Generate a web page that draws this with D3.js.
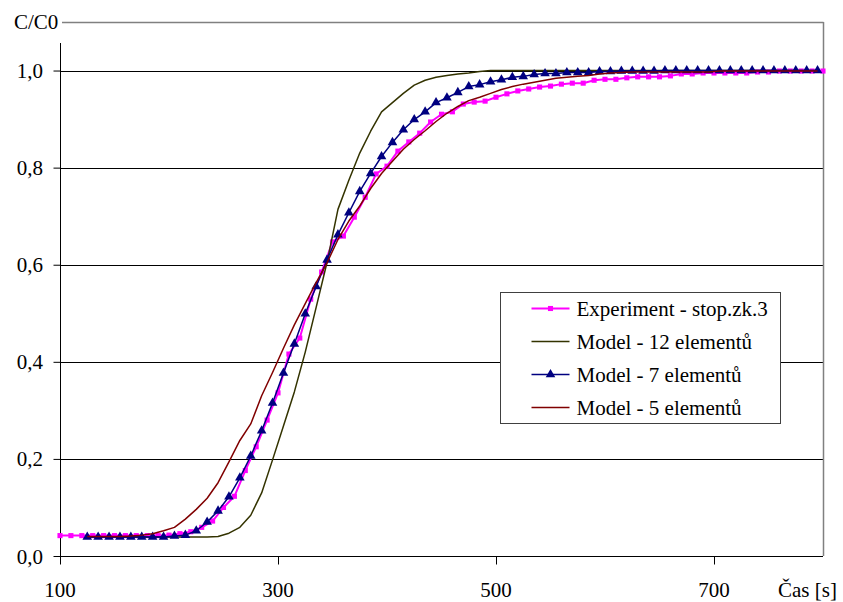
<!DOCTYPE html>
<html>
<head>
<meta charset="UTF-8">
<script src="https://d3js.org/d3.v7.min.js"></script>
</head>
<body style="margin:0">
<svg width="843" height="602" font-family="Liberation Serif"></svg>
<script>
// time grid of the experiment (s)
const expTime = [100,110,120,130,140,150,160,170,180,190,200,210,220,230,240,250,260,270,280,290,
    300,310,320,330,340,350,360,370,380,390,400,410,420,430,440,450,460,470,480,490,
    500,510,520,530,540,550,560,570,580,590,600,610,620,630,640,650,660,670,680,690,
    700,710,720,730,740,750,760,770,780,790,800];
const expValues = [0.042,0.042,0.042,0.042,0.042,0.042,0.042,0.042,0.042,0.042,
    0.043,0.046,0.050,0.059,0.072,0.100,0.123,0.176,0.225,0.280,
    0.336,0.416,0.449,0.529,0.585,0.647,0.659,0.698,0.739,0.787,
    0.803,0.834,0.853,0.871,0.894,0.910,0.915,0.931,0.935,0.937,
    0.945,0.952,0.958,0.962,0.966,0.968,0.972,0.974,0.974,0.980,
    0.982,0.982,0.985,0.987,0.987,0.987,0.989,0.993,0.993,0.995,
    0.995,0.995,0.995,0.995,0.997,0.997,0.999,0.999,0.999,0.999,0.999];

// time grid of the models (s)
const modelTime = [125,135,145,155,165,175,185,195,205,215,225,235,245,255,265,275,285,295,
    305,315,325,335,345,355,365,375,385,395,405,415,425,435,445,455,465,475,485,495,
    505,515,525,535,545,555,565,575,585,595,605,615,625,635,645,655,665,675,685,695,
    705,715,725,735,745,755,765,775,785,795];
const model12 = [0.039,0.039,0.039,0.039,0.039,0.039,0.039,0.039,0.039,0.039,0.039,0.039,
    0.040,0.047,0.059,0.084,0.130,0.198,
    0.268,0.338,0.420,0.512,0.605,0.714,0.774,0.830,0.875,0.915,
    0.934,0.953,0.970,0.980,0.986,0.990,0.993,0.995,0.998,1,
    1,1,1,1,1,1,1,1,1,1,1,1,1,1,1,1,1,1,1,1,1,1,1,1,1,1,1,1,1,1];
const model7 = [0.039,0.039,0.039,0.039,0.039,0.039,0.039,0.039,
    0.041,0.043,0.052,0.070,0.093,0.122,0.161,0.206,0.258,0.315,
    0.377,0.437,0.499,0.555,0.610,0.662,0.707,0.751,0.788,0.823,
    0.852,0.878,0.899,0.915,0.934,0.944,0.955,0.967,0.971,0.977,
    0.981,0.986,0.988,0.992,0.994,0.994,0.996,0.996,0.996,0.998,
    0.998,0.999,0.999,0.999,0.999,1,1,1,1,1,
    1,1,1,1,1,1,1,1,1,1];
const model5 = [0.040,0.040,0.040,0.040,0.041,0.043,0.046,0.052,0.059,0.076,
    0.096,0.119,0.151,0.194,0.238,0.272,0.330,0.378,0.428,0.476,
    0.520,0.563,0.604,0.652,0.690,0.721,0.757,0.788,0.813,0.838,
    0.858,0.876,0.895,0.912,0.926,0.938,0.945,0.953,0.961,0.967,
    0.972,0.976,0.980,0.984,0.986,0.988,0.990,0.993,0.995,0.996,
    0.997,0.997,0.997,0.997,0.997,0.997,0.997,0.997,
    0.999,0.999,0.999,0.999,0.999,0.999,0.999,0.999,0.999,0.999];

const xTicks = [100, 300, 500, 700];
const yTicks = [0, 0.2, 0.4, 0.6, 0.8, 1.0];

const series = [
    { name: "Experiment - stop.zk.3", t: expTime, v: expValues, color: "#ff00ff", width: 2, marker: "square" },
    { name: "Model - 12 elementů", t: modelTime, v: model12, color: "#333300", width: 1.5, marker: null },
    { name: "Model - 7 elementů", t: modelTime, v: model7, color: "#000080", width: 1.5, marker: "triangle" },
    { name: "Model - 5 elementů", t: modelTime, v: model5, color: "#800000", width: 1.5, marker: null }
];

const svg = d3.select("svg");
const plotL = 60, plotR = 823, plotT = 22, plotB = 556;

const x = d3.scaleLinear().domain([100, 800]).range([plotL, plotR]);
const y = d3.scaleLinear().domain([0, 1.1]).range([plotB, plotT]);

// serif labels, set both as attribute and as inline style
function label(sel) {
    sel.attr("font-family", "Liberation Serif")
        .attr("font-size", 21)
        .style("font-family", '"Liberation Serif"')
        .style("font-size", "21px")
        .attr("fill", "#000");
}

// gridlines
svg.append("g")
    .selectAll("line").data(yTicks.filter(d => d > 0)).join("line")
    .attr("x1", plotL).attr("x2", plotR)
    .attr("y1", d => Math.round(y(d)) + 0.5).attr("y2", d => Math.round(y(d)) + 0.5)
    .attr("stroke", "#000").attr("stroke-width", 1).attr("shape-rendering", "crispEdges");

// plot border (grey)
svg.append("line").attr("x1", 62).attr("x2", plotR + 0.5).attr("y1", plotT + 0.5).attr("y2", plotT + 0.5)
    .attr("stroke", "#808080").attr("stroke-width", 1.5);
svg.append("line").attr("x1", plotR + 0.5).attr("x2", plotR + 0.5).attr("y1", plotT).attr("y2", plotB)
    .attr("stroke", "#808080").attr("stroke-width", 1.5);

// axes
const xAxis = svg.append("g").attr("transform", `translate(0,${plotB + 0.5})`)
    .call(d3.axisBottom(x).tickValues(xTicks).tickSize(8).tickSizeOuter(0).tickFormat(""));
xAxis.select(".domain").attr("stroke", "#000").attr("d", `M${plotL},0H${plotR}`);
xAxis.selectAll(".tick line").attr("stroke", "#000");

const yAxis = svg.append("g").attr("transform", `translate(${plotL + 0.5},0)`)
    .call(d3.axisLeft(y).tickValues(yTicks).tickSize(7).tickSizeOuter(0).tickFormat(""));
yAxis.select(".domain").attr("stroke", "#000").attr("d", `M0,43V${plotB + 8}`);
yAxis.selectAll(".tick line").attr("stroke", "#000");

const fmt = d => d3.format(".1f")(d).replace(".", ",");
svg.append("g").selectAll("text").data(yTicks).join("text")
    .call(label)
    .attr("x", 43).attr("y", d => y(d) + 7.5)
    .attr("text-anchor", "end")
    .text(fmt);

svg.append("g").selectAll("text").data(xTicks).join("text")
    .call(label)
    .attr("x", d => x(d)).attr("y", 597)
    .attr("text-anchor", "middle")
    .text(d => d);

svg.append("text").call(label).attr("x", 14).attr("y", 29).text("C/C0");
svg.append("text").call(label).attr("x", 778).attr("y", 597).text("Čas [s]");

// series
const line = d3.line().x(d => x(d[0])).y(d => y(d[1]));
const sqr = d3.symbol(d3.symbolSquare, 26);
const tri = d3.symbol(d3.symbolTriangle, 40);

series.forEach(s => {
    const pts = s.t.map((t, i) => [t, s.v[i]]);
    svg.append("path").datum(pts)
        .attr("fill", "none").attr("stroke", s.color)
        .attr("stroke-width", s.width).attr("stroke-linejoin", "round")
        .attr("d", line);
    if (s.marker) {
        svg.append("g").selectAll("path").data(pts).join("path")
            .attr("transform", d => `translate(${x(d[0])},${y(d[1])})`)
            .attr("d", s.marker === "square" ? sqr : tri)
            .attr("fill", s.color);
    }
});

// legend
const lg = svg.append("g").attr("transform", "translate(500.5,292.5)");
lg.append("rect").attr("width", 280).attr("height", 131)
    .attr("fill", "#fff").attr("stroke", "#404040").attr("stroke-width", 1);
series.forEach((s, i) => {
    const cy = 16 + i * 33;
    const row = lg.append("g").attr("transform", `translate(0,${cy})`);
    row.append("line").attr("x1", 31).attr("x2", 69).attr("y1", 0).attr("y2", 0)
        .attr("stroke", s.color).attr("stroke-width", s.width);
    if (s.marker) {
        row.append("path").attr("transform", "translate(50,0)")
            .attr("d", s.marker === "square" ? sqr : tri).attr("fill", s.color);
    }
    row.append("text").call(label).attr("x", 76).attr("y", 7).text(s.name);
});
</script>
</body>
</html>
